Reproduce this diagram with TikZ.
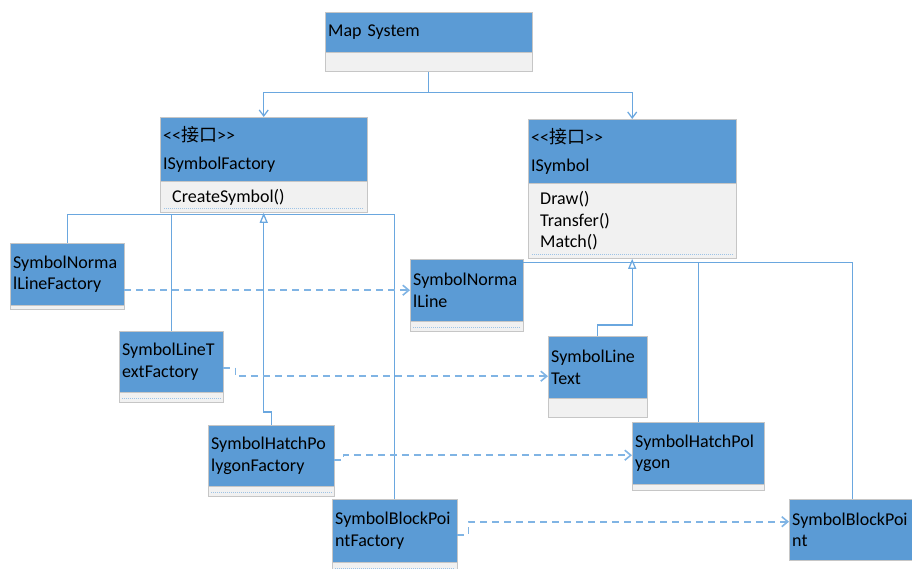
\documentclass[tikz,border=0pt]{standalone}
\usepackage{fontspec}
\setmainfont{Carlito}
\newfontfamily\cjk{Noto Sans CJK SC}
\usetikzlibrary{arrows.meta, calc}
\definecolor{umlblue}{HTML}{5B9BD5}
\definecolor{cmpgray}{HTML}{F1F1F1}
\definecolor{boxedge}{HTML}{C6C6C6}
\definecolor{wire}{HTML}{6AA7DF}
\definecolor{dotblue}{HTML}{9DC3E6}
\newcommand{\umlfont}{\fontsize{18}{21.5}\selectfont}
\tikzset{
  hd/.style   = {draw=boxedge, fill=umlblue, anchor=north west, inner xsep=3pt, inner ysep=0pt, align=left, font=\umlfont},
  cmpt/.style = {draw=boxedge, fill=cmpgray, anchor=north west, inner xsep=12pt, inner ysep=0pt, align=left, font=\umlfont},
  ln/.style   = {draw=wire, line width=1.25pt},
  nav/.style  = {ln, -{Straight Barb[length=6pt, width=9pt]}},
  gen/.style  = {ln, -{Triangle[open, length=10pt, width=8pt, fill=white]}},
  dep/.style  = {draw=wire!85, line width=1.6pt, dash pattern=on 7pt off 5pt, -{Straight Barb[length=6pt, width=10pt]}},
  dots/.style = {draw=dotblue, line width=1pt, dash pattern=on 1pt off 1pt}
}

\begin{document}
\begin{tikzpicture}[x=1pt, y=-1pt]
\useasboundingbox (0,0) rectangle (912,568);
\clip (0,0) rectangle (912,568);
%% ===== top: map system and interfaces =====
\node[hd, text width=201pt, minimum height=40pt] (msh) at (325,12) {Map System};
\node[cmpt, minimum width=207pt, minimum height=19pt] (msc) at (msh.south west) {};
% ISymbolFactory
\node[hd, text width=201pt, minimum height=64pt] (isfh) at (160,117) {<{}<{\cjk 接口}>{}>\\[6pt]ISymbolFactory};
\node[cmpt, text width=183pt, minimum height=31pt] (isfc) at (isfh.south west) {CreateSymbol()};
\draw[dots] ([xshift=4pt,yshift=4pt]isfc.south west) -- ([xshift=-4pt,yshift=4pt]isfc.south east);
% ISymbol
\node[hd, text width=202pt, minimum height=64pt] (ish) at (528,119) {<{}<{\cjk 接口}>{}>\\[6pt]ISymbol};
\node[cmpt, text width=184pt, minimum height=75pt] (isc) at (ish.south west) {Draw()\\Transfer()\\Match()};
\draw[dots] ([xshift=4pt,yshift=4pt]isc.south west) -- ([xshift=-4pt,yshift=4pt]isc.south east);
%% ===== factories (left) =====
\node[hd, text width=108pt, minimum height=62pt] (nlfh) at (10,243) {SymbolNorma\\lLineFactory};
\node[cmpt, minimum width=114pt, minimum height=4pt] (nlfc) at (nlfh.south west) {};
\node[hd, text width=98pt, minimum height=61pt] (ltfh) at (119,331) {SymbolLineT\\extFactory};
\node[cmpt, minimum width=104pt, minimum height=10pt] (ltfc) at (ltfh.south west) {};
\draw[dots] ([xshift=3pt,yshift=4.5pt]ltfc.south west) -- ([xshift=-3pt,yshift=4.5pt]ltfc.south east);
\node[hd, text width=120pt, minimum height=61pt] (hpfh) at (208,425) {SymbolHatchPo\\lygonFactory};
\node[cmpt, minimum width=126pt, minimum height=10pt] (hpfc) at (hpfh.south west) {};
\draw[dots] ([xshift=3pt,yshift=4.5pt]hpfc.south west) -- ([xshift=-3pt,yshift=4.5pt]hpfc.south east);
\node[hd, text width=119pt, minimum height=63pt] (bpfh) at (332,499) {SymbolBlockPoi\\ntFactory};
\node[cmpt, minimum width=125pt, minimum height=10pt] (bpfc) at (bpfh.south west) {};
\draw[dots] ([xshift=3pt,yshift=4.5pt]bpfc.south west) -- ([xshift=-3pt,yshift=4.5pt]bpfc.south east);
%% ===== symbols (right) =====
\node[hd, text width=107pt, minimum height=62pt] (nlh) at (410,259) {SymbolNorma\\lLine};
\node[cmpt, minimum width=113pt, minimum height=10pt] (nlc) at (nlh.south west) {};
\draw[dots] ([xshift=3pt,yshift=4.5pt]nlc.south west) -- ([xshift=-3pt,yshift=4.5pt]nlc.south east);
\node[hd, text width=93pt, minimum height=62pt] (lth) at (548,336) {SymbolLine\\Text};
\node[cmpt, minimum width=99pt, minimum height=19pt] (ltc) at (lth.south west) {};
\node[hd, text width=126pt, minimum height=62pt] (hph) at (632,422) {SymbolHatchPol\\ygon};
\node[cmpt, minimum width=132pt, minimum height=6pt] (hpc) at (hph.south west) {};
\node[hd, text width=120pt, minimum height=61pt] (bph) at (789,499) {SymbolBlockPoi\\nt};
%% ===== connectors =====
\coordinate (isfb) at ([yshift=-2pt]isfc.south);
\coordinate (isb) at ([yshift=-4pt]isc.south);
% map system
\draw[nav] (msc.south) -- ++(0,21) -| (isfh.north);
\draw[nav] (msc.south) -- ++(0,21) -| (ish.north);
% factory hierarchy
\draw[ln] (nlfh.north) |- (isfb);
\draw[ln] (ltfh.north) |- (isfb);
\draw[ln] (bpfh.north) |- (isfb);
\draw[gen] (hpfh.north) -- ++(0,-13) -| (isfc.south);
% symbol hierarchy
\draw[ln] (nlh.east |- isb) -- (isb);
\draw[ln] (hph.north) |- (isb);
\draw[ln] (bph.north) |- (isb);
\draw[gen] (lth.north) -- ++(0,-11) -| (isc.south);
% factory creates symbol
\draw[dep] (nlfh.east |- nlh.west) -- (nlh.west);
\draw[dep] ([yshift=-6pt]ltfh.east) -- ++(12,0) |- ([yshift=-9pt]lth.west);
\draw[dep] ([yshift=-4pt]hpfh.east) -- ++(9,0) |- ([yshift=-2pt]hph.west);
\draw[dep] ([yshift=-4pt]bpfh.east) -- ++(11,0) |- ([yshift=8pt]bph.west);
\end{tikzpicture}
\end{document}
